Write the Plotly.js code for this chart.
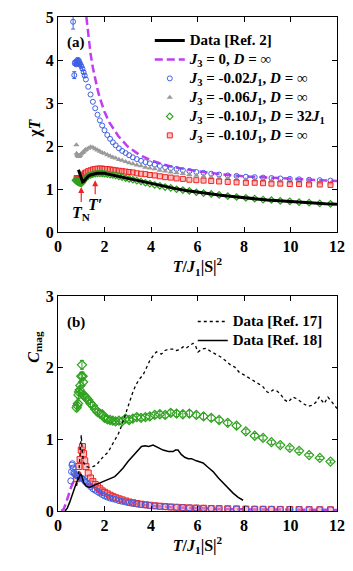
<!DOCTYPE html>
<html>
<head>
<meta charset="utf-8">
<script src="https://cdn.plot.ly/plotly-3.0.1.min.js"></script>
<style>
  html, body { margin: 0; padding: 0; background: #fff; }
  #chart { width: 353px; height: 571px; }
</style>
</head>
<body>
<div id="chart"></div>
<script>
// shared simulation temperatures above T = 1.2
const tHigh = [1.20,1.30,1.40,1.50,1.60,1.70,1.80,1.90,2.00,2.12,2.24,2.36,2.48,2.62,2.76,2.91,3.06,3.22,3.39,3.57,
  3.76,3.95,4.16,4.38,4.61,4.85,5.10,5.37,5.65,5.95,6.26,6.59,6.93,7.30,7.68,8.08,8.46,8.82,9.18,9.56,
  9.97,10.37,10.80,11.26,11.72];

// ---- panel (a): chi*T ----
const tRef2 = [0.88,0.92,0.97,1.02,1.06,1.10,1.15,1.20,1.30,1.40,1.50,1.60,1.70,1.80,2.00,2.25,2.50,2.75,3.00,3.50,
  4.00,4.50,5.00,5.50,6.00,6.50,7.00,7.50,8.00,8.50,9.00,9.50,10.00,10.50,11.00,11.50,12.00];
const chiRef2 = [1.45,1.38,1.28,1.20,1.17,1.18,1.21,1.25,1.30,1.33,1.35,1.36,1.37,1.37,1.37,1.34,1.31,1.28,1.25,1.19,
  1.13,1.07,1.02,0.97,0.93,0.89,0.86,0.83,0.80,0.77,0.75,0.73,0.71,0.69,0.68,0.66,0.65];

const tJ0a = [1.22,1.30,1.40,1.50,1.60,1.70,1.80,2.00,2.20,2.40,2.60,2.80,3.00,3.50,4.00,4.50,5.00,6.00,7.00,8.00,
  9.00,10.00,11.00,12.00];
const chiJ0 = [5.00,4.60,4.15,3.82,3.55,3.32,3.12,2.80,2.56,2.38,2.23,2.11,1.99,1.80,1.67,1.58,1.51,1.42,1.35,1.30,
  1.27,1.24,1.21,1.19];

const tBlueLowA = [0.65,0.70,0.72,0.75,0.78,0.80,0.83,0.85,0.88,0.90,0.93,0.95,1.00,1.05,1.10,1.15];
const chiBlueLow = [4.89,3.65,3.93,3.95,3.90,3.97,3.92,4.00,3.94,3.98,3.90,3.92,3.86,3.80,3.72,3.64];
const chiBlueErr = [0.17,0.08,0.05,0.04,0.04,0.05,0.04,0.05,0.04,0.04,0.04,0.04,0.04,0.04,0.04,0.04];
const chiBlueHigh = [3.55,3.38,3.20,3.03,2.88,2.73,2.60,2.48,2.37,2.26,2.17,2.09,2.02,1.95,1.89,1.84,1.79,1.74,1.70,1.66,
  1.63,1.60,1.57,1.54,1.51,1.49,1.47,1.44,1.42,1.40,1.38,1.36,1.34,1.32,1.31,1.29,1.28,1.27,1.26,1.25,
  1.24,1.23,1.22,1.21,1.20];

const tGrayLow = [0.79,0.80,0.83,0.85,0.88,0.90,0.93,0.95,1.00,1.05,1.10,1.15];
const chiGrayLow = [2.03,1.83,1.80,1.78,1.77,1.76,1.78,1.79,1.82,1.85,1.87,1.90];
const chiGrayHigh = [1.92,1.95,1.98,1.97,1.94,1.91,1.88,1.85,1.83,1.80,1.77,1.74,1.72,1.69,1.67,1.64,1.61,1.59,1.56,1.54,
  1.51,1.49,1.47,1.44,1.42,1.40,1.38,1.36,1.34,1.32,1.30,1.28,1.26,1.25,1.23,1.22,1.21,1.20,1.19,1.18,
  1.17,1.17,1.16,1.15,1.14];

const tGreenLowA = [0.75,0.78,0.80,0.83,0.85,0.88,0.90,0.93,0.95,0.98,1.00,1.03,1.05,1.08,1.10,1.15];
const chiGreenLow = [1.21,1.20,1.19,1.18,1.17,1.16,1.16,1.15,1.15,1.14,1.14,1.15,1.17,1.19,1.21,1.24];
const chiGreenHigh = [1.27,1.31,1.33,1.35,1.36,1.37,1.37,1.37,1.36,1.35,1.34,1.33,1.32,1.30,1.28,1.26,1.24,1.22,1.20,1.18,
  1.15,1.13,1.10,1.08,1.05,1.03,1.00,0.98,0.96,0.93,0.91,0.89,0.87,0.84,0.82,0.80,0.78,0.76,0.75,0.73,
  0.72,0.70,0.69,0.67,0.66];

const tRedLowA = [0.80,0.83,0.85,0.88,0.90,0.93,0.95,1.00,1.05,1.10,1.15];
const chiRedLow = [1.26,1.24,1.22,1.21,1.20,1.21,1.22,1.25,1.30,1.34,1.37];
const chiRedHigh = [1.39,1.42,1.44,1.46,1.47,1.48,1.48,1.48,1.47,1.47,1.46,1.45,1.44,1.43,1.42,1.41,1.40,1.39,1.37,1.36,
  1.35,1.33,1.32,1.30,1.28,1.27,1.25,1.24,1.22,1.21,1.20,1.19,1.18,1.17,1.16,1.15,1.15,1.14,1.13,1.13,
  1.12,1.12,1.11,1.11,1.10];

// ---- panel (b): C_mag ----
const tRef17 = [0.80,0.90,0.95,1.00,1.05,1.10,1.20,1.35,1.50,1.65,1.80,1.95,2.15,2.30,2.45,2.60,2.75,2.90,3.05,3.20,
  3.35,3.50,3.66,3.80,3.95,4.10,4.23,4.35,4.45,4.60,4.80,5.00,5.10,5.23,5.38,5.50,5.65,5.81,5.92,6.02,
  6.20,6.38,6.55,6.81,7.00,7.24,7.45,7.60,7.81,8.00,8.24,8.53,8.80,9.00,9.10,9.25,9.39,9.55,9.75,9.90,
  10.10,10.25,10.40,10.60,10.75,10.97,11.10,11.23,11.32,11.45,11.61,11.75,11.90,12.00];
const cRef17 = [0.35,0.55,0.80,1.06,0.80,0.68,0.62,0.61,0.62,0.64,0.70,0.76,0.82,0.90,0.98,1.08,1.20,1.35,1.50,1.64,
  1.76,1.84,1.90,2.00,2.10,2.17,2.22,2.20,2.19,2.24,2.26,2.26,2.24,2.25,2.29,2.27,2.31,2.34,2.30,2.22,
  2.26,2.27,2.23,2.18,2.15,2.09,2.03,2.01,1.93,1.90,1.85,1.80,1.74,1.66,1.65,1.69,1.68,1.64,1.55,1.52,
  1.59,1.57,1.53,1.49,1.46,1.48,1.52,1.59,1.55,1.50,1.59,1.53,1.47,1.43];

const tRef18 = [0.30,0.40,0.50,0.60,0.70,0.80,0.90,0.97,1.03,1.10,1.20,1.35,1.50,1.65,1.80,2.00,2.20,2.44,2.60,2.80,
  3.01,3.20,3.40,3.59,3.75,3.90,4.09,4.30,4.52,4.75,4.95,5.05,5.16,5.30,5.45,5.60,5.74,5.95,6.10,6.24,
  6.45,6.67,6.90,7.10,7.30,7.53,7.75,7.96];
const cRef18 = [0.00,0.04,0.12,0.22,0.31,0.40,0.46,0.52,0.48,0.40,0.35,0.33,0.35,0.37,0.39,0.41,0.44,0.48,0.53,0.60,
  0.69,0.76,0.84,0.90,0.91,0.90,0.92,0.88,0.85,0.83,0.83,0.85,0.85,0.79,0.75,0.73,0.73,0.70,0.69,0.67,
  0.61,0.55,0.46,0.39,0.32,0.25,0.19,0.15];

const tJ0b = [0.15,0.25,0.35,0.45,0.55,0.65,0.75,0.85,0.95,1.05,1.20,1.40,1.60,1.80,2.00,2.30,2.60,3.00,3.50,4.00,
  5.00,6.00,7.00,8.00,9.00,10.00,11.00,12.00];
const cJ0 = [0.00,0.03,0.12,0.23,0.32,0.40,0.45,0.46,0.45,0.43,0.39,0.34,0.29,0.25,0.22,0.18,0.15,0.12,0.09,0.07,
  0.05,0.035,0.028,0.023,0.02,0.018,0.016,0.015];

const tBlueLowB = [0.55,0.58,0.60,0.62,0.65,0.68,0.70,0.75,0.80,0.85,0.90,0.95,1.00,1.05,1.10,1.15];
const cBlueLow = [0.42,0.55,0.64,0.66,0.60,0.54,0.52,0.51,0.50,0.49,0.48,0.47,0.46,0.45,0.44,0.42];
const cBlueHigh = [0.40,0.37,0.34,0.31,0.29,0.27,0.25,0.23,0.21,0.195,0.18,0.17,0.16,0.145,0.135,0.125,0.115,0.105,0.097,0.09,
  0.083,0.076,0.07,0.064,0.059,0.055,0.051,0.047,0.044,0.041,0.038,0.035,0.033,0.031,0.029,0.027,0.026,0.025,0.024,0.023,
  0.022,0.021,0.02,0.019,0.018];

const tGreenLowB = [0.80,0.83,0.86,0.88,0.90,0.93,0.96,1.00,1.03,1.06,1.08,1.10,1.15];
const cGreenLow = [1.44,1.47,1.50,1.62,1.66,1.69,1.75,1.88,2.04,1.88,1.80,1.62,1.60];
const cGreenHigh = [1.58,1.55,1.50,1.47,1.42,1.38,1.36,1.35,1.30,1.28,1.27,1.26,1.25,1.26,1.25,1.29,1.27,1.29,1.31,1.30,
  1.31,1.32,1.34,1.35,1.34,1.37,1.36,1.35,1.36,1.34,1.32,1.30,1.27,1.23,1.19,1.11,1.05,1.02,0.96,0.92,
  0.88,0.84,0.78,0.74,0.69];

const tRedLowB = [0.80,0.85,0.90,0.95,1.00,1.05,1.10,1.15];
const cRedLow = [0.45,0.50,0.62,0.72,0.85,0.90,0.80,0.70];
const cRedHigh = [0.62,0.53,0.46,0.41,0.37,0.34,0.31,0.28,0.26,0.24,0.22,0.20,0.185,0.17,0.155,0.14,0.125,0.115,0.105,0.095,
  0.087,0.08,0.073,0.067,0.061,0.056,0.052,0.048,0.044,0.041,0.038,0.035,0.033,0.031,0.029,0.027,0.025,0.024,0.023,0.022,
  0.021,0.02,0.019,0.018,0.017];

const BLUE = "#3f5fe6", GRAY = "#9a9a9a", GREEN = "#2fa11f", RED = "#ee2424", PURPLE = "#c23cf2";
const FONT = "Liberation Serif, Times New Roman, serif";

// legend rows are at least 19px tall, so the legend font is small and the text is sized in a span
const big = (s) => `<span style="font-size:15px">${s}</span>`;

const traces = [
  // panel (a)
  { x: tJ0a, y: chiJ0, type: "scatter", mode: "lines", name: big("<i>J</i><sub>3</sub> = 0, <i>D</i> = ∞"),
    line: { color: PURPLE, width: 2.5, dash: "8px,4px" }, legendrank: 2 },
  { x: tBlueLowA.concat(tHigh), y: chiBlueLow.concat(chiBlueHigh), type: "scatter", mode: "markers",
    name: big("<i>J</i><sub>3</sub> = -0.02<i>J</i><sub>1</sub>, <i>D</i> = ∞"),
    marker: { symbol: "circle-open", size: 5, color: BLUE, line: { width: 1 } },
    error_y: { type: "data", array: chiBlueErr, color: BLUE, thickness: 1, width: 2 }, legendrank: 3 },
  { x: tGrayLow.concat(tHigh), y: chiGrayLow.concat(chiGrayHigh), type: "scatter", mode: "markers",
    name: big("<i>J</i><sub>3</sub> = -0.06<i>J</i><sub>1</sub>, <i>D</i> = ∞"),
    marker: { symbol: "triangle-up", size: 5.5, color: GRAY }, legendrank: 4 },
  { x: tRedLowA.concat(tHigh), y: chiRedLow.concat(chiRedHigh), type: "scatter", mode: "markers",
    name: big("<i>J</i><sub>3</sub> = -0.10<i>J</i><sub>1</sub>, <i>D</i> = ∞"),
    marker: { symbol: "square", size: 5, color: "rgba(255,140,140,0.55)", line: { color: RED, width: 1 } }, legendrank: 6 },
  { x: tGreenLowA.concat(tHigh), y: chiGreenLow.concat(chiGreenHigh), type: "scatter", mode: "markers",
    name: big("<i>J</i><sub>3</sub> = -0.10<i>J</i><sub>1</sub>, <i>D</i> = 32<i>J</i><sub>1</sub>"),
    marker: { symbol: "diamond-open", size: 5, color: GREEN, line: { width: 1.2 } }, legendrank: 5 },
  { x: tRef2, y: chiRef2, type: "scatter", mode: "lines", name: big("Data [Ref. 2]"),
    line: { color: "#000", width: 3 }, legendrank: 1 },

  // panel (b)
  { x: tJ0b, y: cJ0, xaxis: "x2", yaxis: "y2", type: "scatter", mode: "lines", showlegend: false,
    line: { color: PURPLE, width: 2.5, dash: "8px,4px" } },
  { x: tGreenLowB.concat(tHigh), y: cGreenLow.concat(cGreenHigh), xaxis: "x2", yaxis: "y2", type: "scatter",
    mode: "markers", showlegend: false,
    marker: { symbol: "diamond-open", size: 7, color: GREEN, line: { width: 1.2 } },
    error_y: { type: "percent", value: 3, color: GREEN, thickness: 1, width: 2 } },
  { x: tRedLowB.concat(tHigh), y: cRedLow.concat(cRedHigh), xaxis: "x2", yaxis: "y2", type: "scatter",
    mode: "markers", showlegend: false,
    marker: { symbol: "square", size: 6, color: "rgba(255,140,140,0.55)", line: { color: RED, width: 1 } } },
  { x: tBlueLowB.concat(tHigh), y: cBlueLow.concat(cBlueHigh), xaxis: "x2", yaxis: "y2", type: "scatter",
    mode: "markers", showlegend: false,
    marker: { symbol: "circle-open", size: 6, color: BLUE, line: { width: 1 } } },
  { x: tRef17, y: cRef17, xaxis: "x2", yaxis: "y2", type: "scatter", mode: "lines", legend: "legend2",
    name: big("Data [Ref. 17]"), line: { color: "#000", width: 1.3, dash: "dot" } },
  { x: tRef18, y: cRef18, xaxis: "x2", yaxis: "y2", type: "scatter", mode: "lines", legend: "legend2",
    name: big("Data [Ref. 18]"), line: { color: "#000", width: 1.5 } },
];

const axisBase = {
  showline: true, linecolor: "#000", linewidth: 1, mirror: "ticks",
  ticks: "inside", ticklen: 5, tickwidth: 1, tickcolor: "#000",
  showgrid: false, zeroline: false, fixedrange: true,
  tickfont: { family: FONT, size: 16, weight: "bold", color: "#000" },
};
const xTitle = "<i>T</i>/<i>J</i><sub>1</sub>|S|<sup>2</sup>";

const layout = {
  width: 353, height: 571,
  margin: { l: 58, r: 16, t: 17, b: 60 },
  paper_bgcolor: "#fff", plot_bgcolor: "#fff",
  font: { family: FONT, weight: "bold", color: "#000" },
  xaxis: Object.assign({}, axisBase, { range: [0, 12], dtick: 2, anchor: "y",
    title: { text: xTitle, font: { family: FONT, size: 16, weight: "bold" }, standoff: 3 } }),
  yaxis: Object.assign({}, axisBase, { range: [0, 5], dtick: 1, domain: [0.5642, 1], anchor: "x" }),
  xaxis2: Object.assign({}, axisBase, { range: [0, 12], dtick: 2, anchor: "y2",
    title: { text: xTitle, font: { family: FONT, size: 16, weight: "bold" }, standoff: 3 } }),
  yaxis2: Object.assign({}, axisBase, { range: [0, 3], dtick: 1, domain: [0, 0.4352], anchor: "x2" }),
  legend: { x: 0.329, y: 0.982, xanchor: "left", yanchor: "top", bgcolor: "rgba(0,0,0,0)",
    font: { family: FONT, size: 11, weight: "bold", color: "#000" }, traceorder: "normal" },
  legend2: { x: 0.483, y: 0.413, xanchor: "left", yanchor: "top", bgcolor: "rgba(0,0,0,0)",
    font: { family: FONT, size: 11, weight: "bold", color: "#000" } },
  showlegend: true,
  annotations: [
    { xref: "paper", yref: "paper", x: 0.024, y: 0.948, xanchor: "left", yanchor: "middle", showarrow: false,
      text: "(a)", font: { family: FONT, size: 15, weight: "bold" } },
    { xref: "paper", yref: "paper", x: 0.024, y: 0.381, xanchor: "left", yanchor: "middle", showarrow: false,
      text: "(b)", font: { family: FONT, size: 15, weight: "bold" } },
    { xref: "paper", yref: "paper", x: -0.0835, y: 0.775, xanchor: "center", yanchor: "middle", showarrow: false,
      textangle: -90, text: "χ<i>T</i>", font: { family: FONT, size: 16, weight: "bold" } },
    { xref: "paper", yref: "paper", x: -0.0835, y: 0.332, xanchor: "center", yanchor: "middle", showarrow: false,
      textangle: -90, text: "<i>C</i><sub>mag</sub>", font: { family: FONT, size: 16, weight: "bold" } },
    { xref: "x", yref: "y", x: 1.0, y: 1.05, ax: 0, ay: 26, showarrow: true, arrowcolor: RED, arrowhead: 2,
      arrowsize: 1, arrowwidth: 1.2, standoff: 0, text: "<i>T</i><sub>N</sub>",
      font: { family: FONT, size: 16, weight: "bold" } },
    { xref: "x", yref: "y", x: 1.6, y: 1.21, ax: 0, ay: 24, showarrow: true, arrowcolor: RED, arrowhead: 2,
      arrowsize: 1, arrowwidth: 1.2, standoff: 0, text: "<i>T′</i>",
      font: { family: FONT, size: 16, weight: "bold" } },
  ],
};

Plotly.newPlot("chart", traces, layout, { displayModeBar: false, staticPlot: true });
</script>
</body>
</html>
